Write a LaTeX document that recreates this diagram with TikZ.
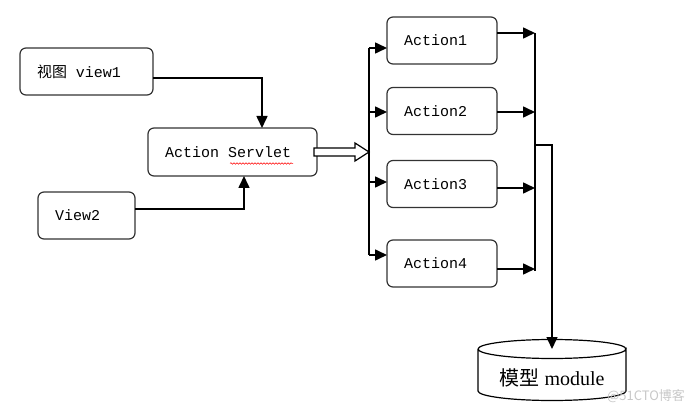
\documentclass[tikz,border=0pt]{standalone}
\usepackage{fontspec}
\newfontfamily\monofont{Liberation Mono}
\newfontfamily\seriffont{Liberation Serif}
\newfontfamily\cjk{Noto Sans CJK SC}
\usetikzlibrary{arrows.meta,calc,decorations.pathmorphing}
\definecolor{c333333}{RGB}{51,51,51}
\definecolor{cc8c8c8}{RGB}{200,200,200}

\begin{document}
\begin{tikzpicture}[x=1pt, y=1pt, yscale=-1, inner sep=0pt, outer sep=0pt,
  box/.style={draw=c333333, line width=1.2pt, rounded corners=6pt, align=left,
    inner xsep=17pt, minimum height=47pt, font=\monofont\fontsize{15}{18}\selectfont},
  link/.style={draw=black, line width=1.6pt, -{Triangle[length=12pt,width=11pt]}},
  bus/.style={draw=black, line width=1.6pt}]
  \useasboundingbox (0,0) rectangle (699,414);
  \node[box, text width=99pt] (view1) at (86.5,71.5) {{\cjk 视图}\hspace{0.6em}view1};
  \node[box, text width=63pt] (view2) at (86.5,215.5) {View2};
  \node[box, text width=135pt, minimum height=48pt] (servlet) at (232.5,152)
    {Action\hspace{0.6em}Servlet};
  \node[box, text width=76pt] (act1) at (442,40.5) {Action1};
  \node[box, text width=76pt] (act2) at (442,111) {Action2};
  \node[box, text width=76pt] (act3) at (442,184) {Action3};
  \node[box, text width=76pt] (act4) at (442,263.5) {Action4};
  \node[minimum width=148pt, minimum height=58pt, font=\seriffont\fontsize{20}{24}\selectfont]
    (db) at (552,378) {{\cjk 模型} module};
  \path[draw=red, line width=0.5pt, decorate, decoration={snake, amplitude=0.8pt,
    segment length=3pt}] (230,163.5) -- (293,163.5);
  \draw[link] ($(view1.east)+(0,6.5)$) -| ($(servlet.north)+(29.5,0)$);
  \draw[link] ($(view2.east)+(0,-6.5)$) -| ($(servlet.south)+(11.5,0)$);
  \coordinate (split) at ($(servlet.east)+(52,0)$);
  \path[draw=black, fill=white, line width=1.2pt, line join=miter]
    ($(servlet.east)+(-3,-4)$) -- ++(41,0) -- ++(0,-5) -- ++(14,9) -- ++(-14,9)
    -- ++(0,-5) -- ++(-41,0) -- cycle;
  \coordinate (a1in) at ($(act1.west)+(0,7.5)$);
  \coordinate (a2in) at ($(act2.west)+(0,1)$);
  \coordinate (a3in) at ($(act3.west)+(0,-2)$);
  \coordinate (a4in) at ($(act4.west)+(0,-8.5)$);
  \draw[bus] (split |- a1in) -- (split |- a4in);
  \foreach \a in {a1in,a2in,a3in,a4in}
    \draw[link] (split |- \a) -- (\a);
  \coordinate (merge) at (535,145);
  \coordinate (a1out) at ($(act1.east)+(0,-7.5)$);
  \coordinate (a2out) at ($(act2.east)+(0,1)$);
  \coordinate (a3out) at ($(act3.east)+(0,4)$);
  \coordinate (a4out) at ($(act4.east)+(0,5.5)$);
  \foreach \a in {a1out,a2out,a3out,a4out}
    \draw[link] (\a) -- (merge |- \a);
  \draw[bus] (merge |- a1out) -- ($(merge |- a4out)+(0,2)$);
  \path[draw=black, fill=white, line width=1.2pt]
    (478,349) -- (478,391) arc[start angle=180, end angle=0, x radius=74, y radius=9.5]
    -- (626,349) arc[start angle=0, end angle=180, x radius=74, y radius=9.5];
  \path[draw=black, line width=1.2pt]
    (478,349) arc[start angle=180, end angle=360, x radius=74, y radius=9.5];
  \node[font=\seriffont\fontsize{20}{24}\selectfont] (dbtext) at (db) {{\cjk 模型} module};
  \draw[link] (merge) -| (db.north);
  \node[text=cc8c8c8, font=\cjk\fontsize{13}{15}\selectfont] (mark) at (646,396) {@51CTO博客};
\end{tikzpicture}
\end{document}
